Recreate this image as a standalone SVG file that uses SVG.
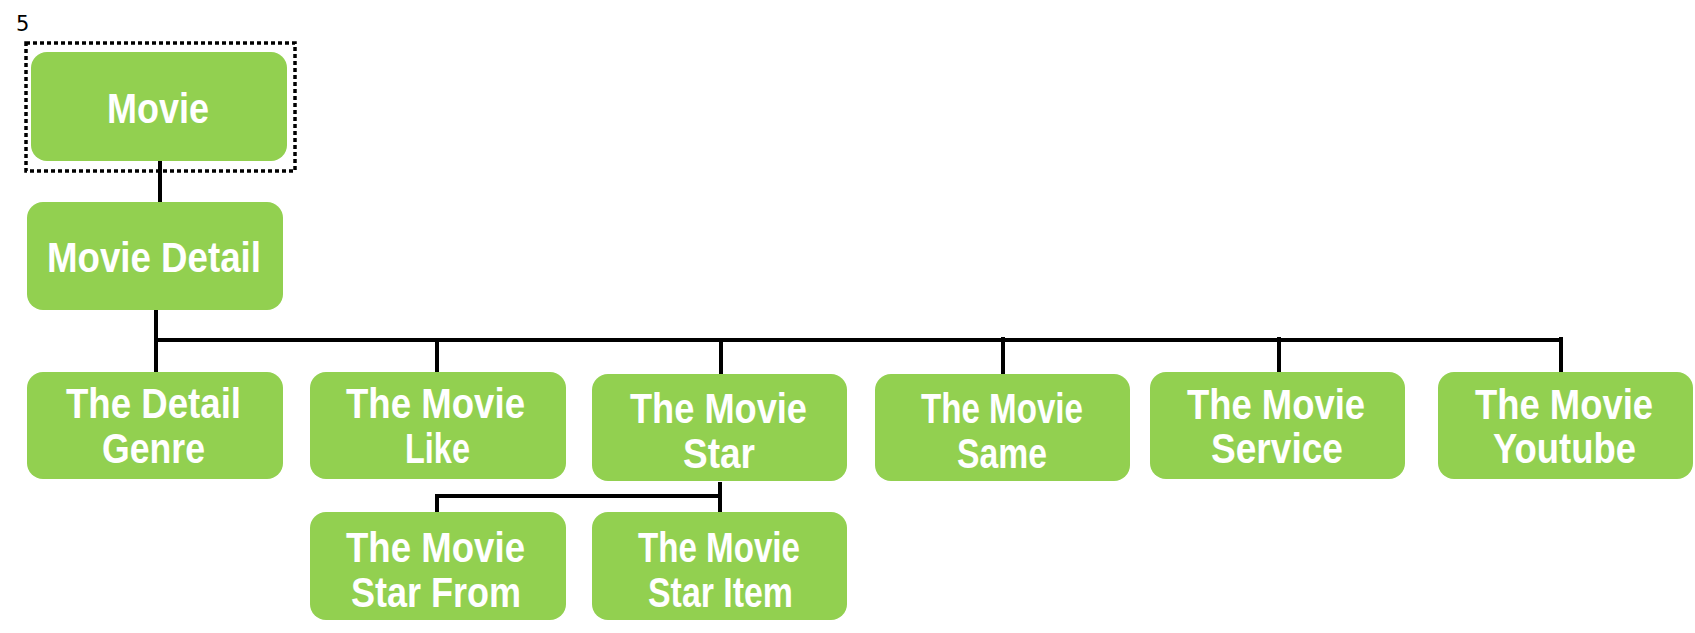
<svg xmlns="http://www.w3.org/2000/svg" width="1695" height="633" viewBox="0 0 1695 633">
<style>
.box{fill:#92D050}
.t{fill:#fff;font-family:"Liberation Sans",Arial,sans-serif;font-weight:bold;font-size:42px}
.c{stroke:#000;stroke-width:4;fill:none}
</style>
<rect width="1695" height="633" fill="#fff"/>
<text x="16" y="31" font-family="DejaVu Sans, sans-serif" font-size="21" fill="#000">5</text>
<g id="connectors">
<path class="c" d="M160 153V205"/>
<path class="c" d="M156 310V373"/>
<path class="c" d="M158 340H1563"/>
<path class="c" d="M437 340V374M721 340V375M1003 337V375M1279 337V372M1561 337V372"/>
<path class="c" d="M720 482V512M437 512V496H722"/>
</g>
<g id="movie">
<rect x="26" y="43" width="269" height="128" fill="none" stroke="#000" stroke-width="3.5" stroke-dasharray="4 3"/>
<rect class="box" x="31" y="52" width="256" height="109" rx="16"/>
<text class="t" x="107" y="123" font-size="37" textLength="102" lengthAdjust="spacingAndGlyphs">Movie</text>
</g>
<g id="movie-detail">
<rect class="box" x="27" y="202" width="256" height="108" rx="16"/>
<text class="t" x="47" y="272" font-size="43" textLength="214" lengthAdjust="spacingAndGlyphs">Movie Detail</text>
</g>
<g id="detail-genre">
<rect class="box" x="27" y="372" width="256" height="107" rx="16"/>
<text class="t" x="66" y="418" textLength="175" lengthAdjust="spacingAndGlyphs">The Detail</text>
<text class="t" x="102" y="463" textLength="103" lengthAdjust="spacingAndGlyphs">Genre</text>
</g>
<g id="movie-like">
<rect class="box" x="310" y="372" width="256" height="107" rx="16"/>
<text class="t" x="346" y="418" textLength="179" lengthAdjust="spacingAndGlyphs">The Movie</text>
<text class="t" x="405" y="463" textLength="65" lengthAdjust="spacingAndGlyphs">Like</text>
</g>
<g id="movie-star">
<rect class="box" x="592" y="374" width="255" height="107" rx="16"/>
<text class="t" x="630" y="423" textLength="177" lengthAdjust="spacingAndGlyphs">The Movie</text>
<text class="t" x="683" y="468" textLength="72" lengthAdjust="spacingAndGlyphs">Star</text>
</g>
<g id="movie-same">
<rect class="box" x="875" y="374" width="255" height="107" rx="16"/>
<text class="t" x="921" y="423" textLength="162" lengthAdjust="spacingAndGlyphs">The Movie</text>
<text class="t" x="957" y="468" textLength="90" lengthAdjust="spacingAndGlyphs">Same</text>
</g>
<g id="movie-service">
<rect class="box" x="1150" y="372" width="255" height="107" rx="16"/>
<text class="t" x="1187" y="419" textLength="178" lengthAdjust="spacingAndGlyphs">The Movie</text>
<text class="t" x="1211" y="463" textLength="132" lengthAdjust="spacingAndGlyphs">Service</text>
</g>
<g id="movie-youtube">
<rect class="box" x="1438" y="372" width="255" height="107" rx="16"/>
<text class="t" x="1475" y="419" textLength="178" lengthAdjust="spacingAndGlyphs">The Movie</text>
<text class="t" x="1493" y="463" textLength="143" lengthAdjust="spacingAndGlyphs">Youtube</text>
</g>
<g id="movie-star-from">
<rect class="box" x="310" y="512" width="256" height="108" rx="16"/>
<text class="t" x="346" y="562" textLength="179" lengthAdjust="spacingAndGlyphs">The Movie</text>
<text class="t" x="351" y="607" textLength="170" lengthAdjust="spacingAndGlyphs">Star From</text>
</g>
<g id="movie-star-item">
<rect class="box" x="592" y="512" width="255" height="108" rx="16"/>
<text class="t" x="638" y="562" textLength="162" lengthAdjust="spacingAndGlyphs">The Movie</text>
<text class="t" x="648" y="607" textLength="145" lengthAdjust="spacingAndGlyphs">Star Item</text>
</g>
</svg>
